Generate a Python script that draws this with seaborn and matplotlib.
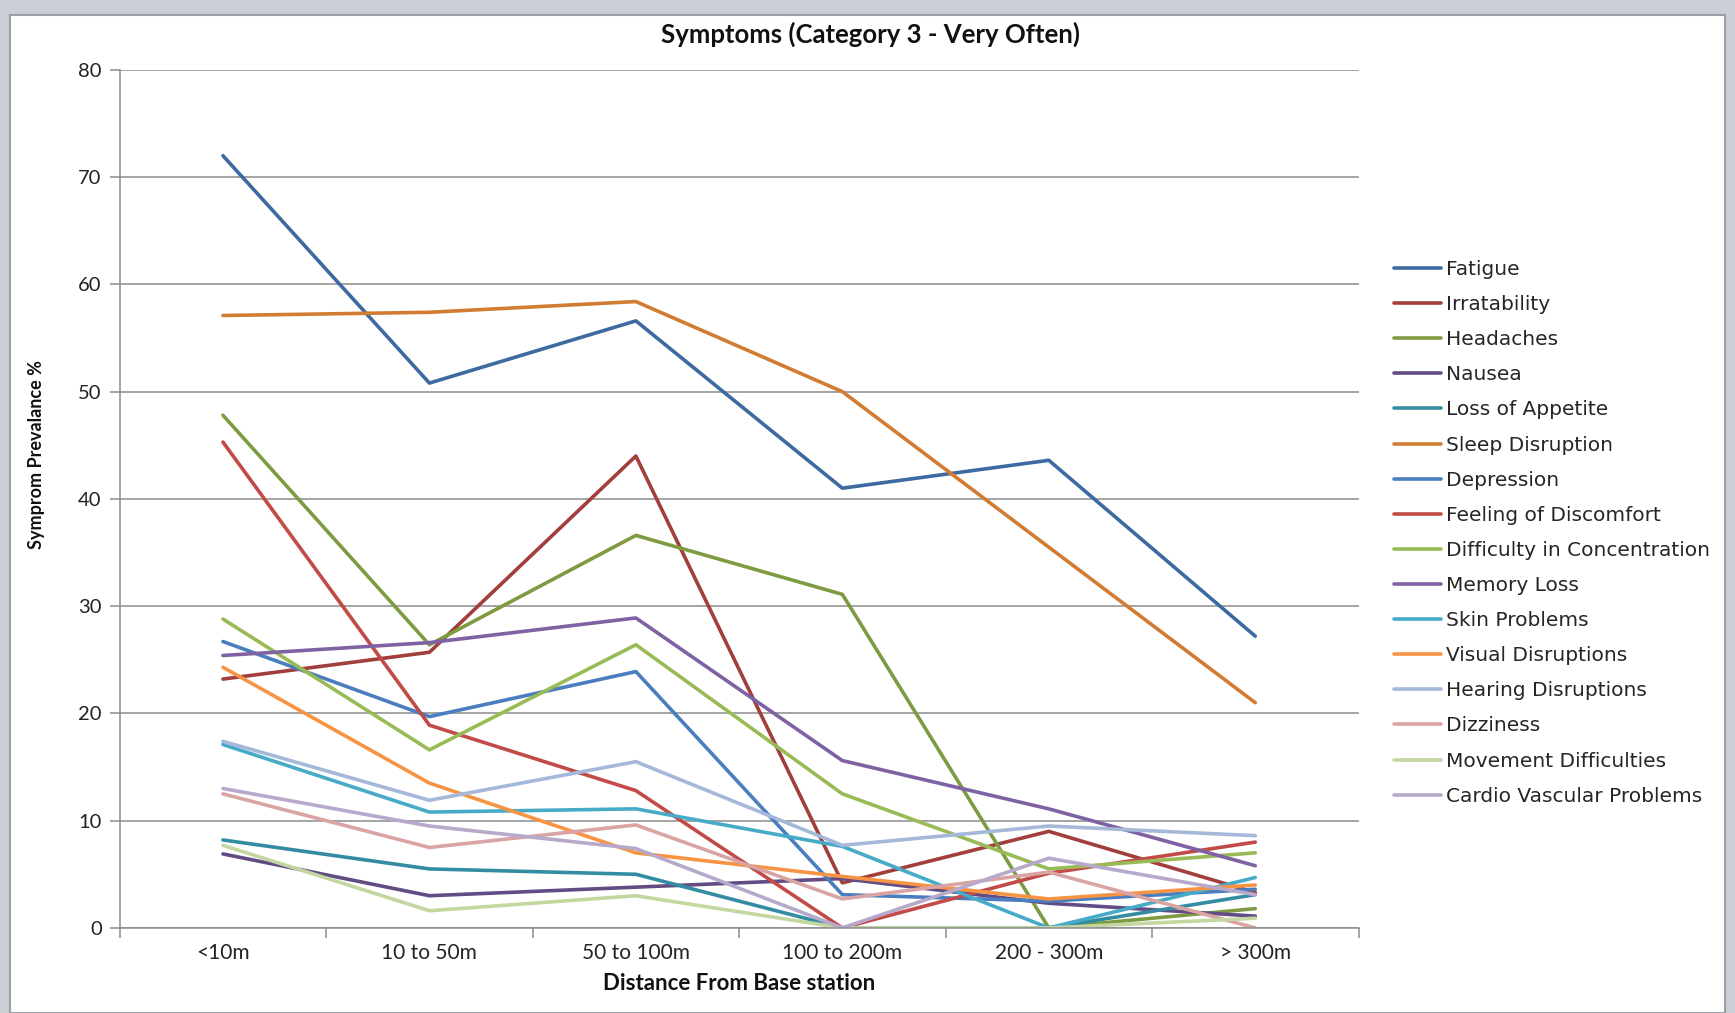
import pandas as pd
import matplotlib
matplotlib.use('Agg')
import matplotlib.pyplot as plt
import seaborn as sns
from matplotlib.patches import Rectangle
from matplotlib.lines import Line2D

# Categories (x axis)
distances = ['<10m', '10 to 50m', '50 to 100m', '100 to 200m', '200 - 300m', '> 300m']

# Symptom prevalence (%) per distance class
fatigue = [72.0, 50.8, 56.6, 41.0, 43.6, 27.2]
irratability = [23.2, 25.7, 44.0, 4.2, 9.0, 3.3]
headaches = [47.8, 26.4, 36.6, 31.1, 0.0, 1.8]
nausea = [6.9, 3.0, 3.8, 4.6, 2.3, 1.1]
loss_of_appetite = [8.2, 5.5, 5.0, 0.0, 0.0, 3.1]
sleep_disruption = [57.1, 57.4, 58.4, 50.0, 35.5, 21.0]
depression = [26.7, 19.7, 23.9, 3.1, 2.5, 3.6]
feeling_of_discomfort = [45.3, 18.9, 12.8, 0.0, 5.1, 8.0]
difficulty_in_concentration = [28.8, 16.6, 26.4, 12.5, 5.5, 7.0]
memory_loss = [25.4, 26.6, 28.9, 15.6, 11.1, 5.8]
skin_problems = [17.1, 10.8, 11.1, 7.6, 0.0, 4.7]
visual_disruptions = [24.3, 13.5, 7.0, 4.8, 2.7, 4.0]
hearing_disruptions = [17.4, 11.9, 15.5, 7.7, 9.5, 8.6]
dizziness = [12.5, 7.5, 9.6, 2.7, 5.2, 0.0]
movement_difficulties = [7.7, 1.6, 3.0, 0.0, 0.0, 0.9]
cardio_vascular = [13.0, 9.5, 7.4, 0.0, 6.5, 3.1]

symptoms = ['Fatigue', 'Irratability', 'Headaches', 'Nausea', 'Loss of Appetite',
            'Sleep Disruption', 'Depression', 'Feeling of Discomfort',
            'Difficulty in Concentration', 'Memory Loss', 'Skin Problems',
            'Visual Disruptions', 'Hearing Disruptions', 'Dizziness',
            'Movement Difficulties', 'Cardio Vascular Problems']
series = [fatigue, irratability, headaches, nausea, loss_of_appetite,
          sleep_disruption, depression, feeling_of_discomfort,
          difficulty_in_concentration, memory_loss, skin_problems,
          visual_disruptions, hearing_disruptions, dizziness,
          movement_difficulties, cardio_vascular]

colors = ['#3d6aa0', '#a23f3c', '#7d9b41', '#634c84', '#348ca3', '#d27c33',
          '#4a7ebf', '#c24b48', '#99bb55', '#7f62a4', '#47abc8', '#f79444',
          '#a5b8d9', '#d9a4a3', '#c4d7a0', '#b6a9cb']

# Long form table for seaborn
rows = []
for name, vals in zip(symptoms, series):
    for i, v in enumerate(vals):
        rows.append({'pos': i, 'value': v, 'symptom': name})
df = pd.DataFrame(rows)

sns.set_theme(style='white')
plt.rcParams['font.family'] = ['Lato', 'DejaVu Sans']

fig = plt.figure(figsize=(17.35, 10.13), dpi=100)
fig.patch.set_facecolor('#c9cfd5')
fig.patches.append(Rectangle((0.006, 0.0), 0.988, 0.985, transform=fig.transFigure,
                             facecolor='white', edgecolor='#9aa0a6', linewidth=1.5,
                             zorder=-5))

ax = fig.add_axes([0.069, 0.084, 0.714, 0.847])
ax.set_facecolor('none')

sns.lineplot(data=df, x='pos', y='value', hue='symptom', hue_order=symptoms,
             palette=colors, linewidth=2.6, ax=ax, legend=False,
             solid_capstyle='round')

grid_col = '#8c8c8c'
ax.set_xlim(-0.5, 5.5)
ax.set_ylim(0, 80)
ax.set_yticks(range(0, 81, 10))
ax.yaxis.grid(True, color=grid_col, linewidth=1.1)
ax.set_axisbelow(True)
ax.set_xticks(range(6))
ax.set_xticklabels(distances)
ax.set_xticks([x - 0.5 for x in range(7)], minor=True)
ax.tick_params(axis='x', which='major', length=0, pad=11, labelsize=15, labelcolor='#222222')
ax.tick_params(axis='x', which='minor', length=7, width=1.1, color=grid_col, direction='out', bottom=True)
ax.tick_params(axis='y', length=7, width=1.1, color=grid_col, direction='out', left=True,
               pad=6, labelsize=14.5, labelcolor='#222222')
for s in ['top', 'right']:
    ax.spines[s].set_visible(False)
for s in ['left', 'bottom']:
    ax.spines[s].set_color(grid_col)
    ax.spines[s].set_linewidth(1.1)
ax.set_xlabel('')
ax.set_ylabel('')

fig.text(0.502, 0.966, 'Symptoms (Category 3 - Very Often)', ha='center', va='center',
         fontsize=18.5, fontweight='bold', color='#111111')
fig.text(0.426, 0.029, 'Distance From Base station', ha='center', va='center',
         fontsize=16, fontweight='bold', color='#111111')
fig.text(0.021, 0.551, 'Symprom Prevalance %', ha='center', va='center', rotation=90,
         fontsize=13, fontweight='bold', color='#111111')

handles = [Line2D([], [], color=c, linewidth=2.6) for c in colors]
fig.legend(handles, symptoms, loc='center left', bbox_to_anchor=(0.8036, 0.474),
           bbox_transform=fig.transFigure, frameon=False, borderpad=0, borderaxespad=0,
           handlelength=2.3, handletextpad=0.27, labelspacing=0.8,
           prop={'family': 'DejaVu Sans', 'size': 14.5})

fig.savefig('out.png', dpi=100)
